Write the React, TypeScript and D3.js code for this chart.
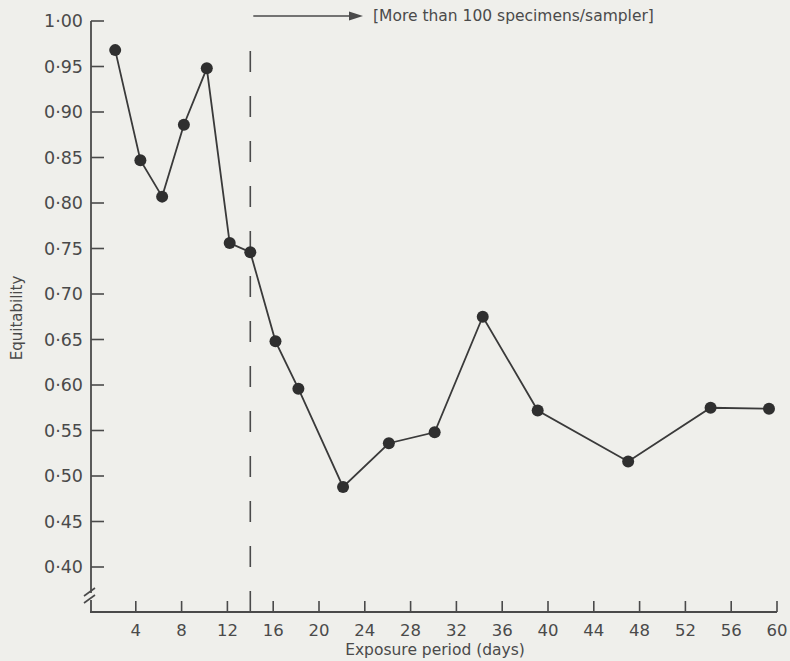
import React from "react";
import * as d3 from "d3";

const days = [2.2, 4.4, 6.3, 8.2, 10.2, 12.2, 14.0, 16.2, 18.2, 22.1, 26.1, 30.1, 34.3, 39.1, 47.0, 54.2, 59.3];
const equitability = [0.968, 0.847, 0.807, 0.886, 0.948, 0.756, 0.746, 0.648, 0.596, 0.488, 0.536, 0.548, 0.675, 0.572, 0.516, 0.575, 0.574];
const yTicks = [0.4, 0.45, 0.5, 0.55, 0.6, 0.65, 0.7, 0.75, 0.8, 0.85, 0.9, 0.95, 1.0];
const xTicks = [4, 8, 12, 16, 20, 24, 28, 32, 36, 40, 44, 48, 52, 56, 60];
const thresholdDay = 14.0;
const annotation = "[More than 100 specimens/sampler]";
const xTitle = "Exposure period (days)";
const yTitle = "Equitability";

const W = 790;
const H = 661;
const FONT = "DejaVu Sans, sans-serif";
const INK = "#4a4a4a";

export default function App() {
  const x = d3.scaleLinear().domain([0, 60]).range([90, 777]);
  const y = d3.scaleLinear().domain([0.4, 1.0]).range([567, 21]);
  const axisY = 612;
  const x0 = x(0) + 1;

  const pts = days.map((d, i) => ({ d, v: equitability[i] }));
  const line = d3
    .line<{ d: number; v: number }>()
    .x((p) => x(p.d))
    .y((p) => y(p.v));

  const fmt = (v: number) => v.toFixed(2).replace(".", "\u00B7");

  const arrowY = 16;
  const arrowX1 = x(thresholdDay) + 3;
  const arrowX2 = 363;

  return (
    <svg
      width={W}
      height={H}
      style={{ position: "absolute", left: 0, top: 0, background: "#efefeb" }}
      fontFamily={FONT}
    >
      <rect x={0} y={0} width={W} height={H} fill="#efefeb" />

      {/* y axis with break */}
      <line x1={x0} y1={y(1.0)} x2={x0} y2={593} stroke={INK} strokeWidth={1.8} />
      <line x1={x0 - 7} y1={596} x2={x0 + 4} y2={588} stroke={INK} strokeWidth={1.6} />
      <line x1={x0 - 7} y1={603} x2={x0 + 4} y2={595} stroke={INK} strokeWidth={1.6} />
      <line x1={x0} y1={600} x2={x0} y2={axisY} stroke={INK} strokeWidth={1.8} />

      {yTicks.map((t) => (
        <g key={t}>
          <line x1={x0} x2={x0 + 13} y1={y(t)} y2={y(t)} stroke={INK} strokeWidth={1.6} />
          <text
            x={83}
            y={y(t)}
            dy="0.36em"
            textAnchor="end"
            fontSize={17.5}
            fill={INK}
          >
            {fmt(t)}
          </text>
        </g>
      ))}

      {/* x axis */}
      <line x1={x0 - 1} y1={axisY} x2={x(60)} y2={axisY} stroke={INK} strokeWidth={1.8} />
      {xTicks.map((t) => (
        <g key={t}>
          <line x1={x(t)} x2={x(t)} y1={axisY} y2={axisY - 11} stroke={INK} strokeWidth={1.6} />
          <text x={x(t)} y={636} textAnchor="middle" fontSize={16.5} fill={INK}>
            {t}
          </text>
        </g>
      ))}

      <text x={435} y={655} textAnchor="middle" fontSize={15.5} fill={INK}>
        {xTitle}
      </text>
      <text
        transform={`translate(22,318) rotate(-90)`}
        textAnchor="middle"
        fontSize={15}
        fill={INK}
      >
        {yTitle}
      </text>

      {/* dashed threshold line */}
      <line
        x1={x(thresholdDay)}
        x2={x(thresholdDay)}
        y1={axisY}
        y2={30}
        stroke={INK}
        strokeWidth={1.6}
        strokeDasharray="21 24"
      />

      {/* arrow annotation */}
      <line x1={arrowX1} x2={arrowX2 - 12} y1={arrowY} y2={arrowY} stroke={INK} strokeWidth={1.6} />
      <path
        d={`M${arrowX2},${arrowY} L${arrowX2 - 14},${arrowY - 4.5} L${arrowX2 - 14},${arrowY + 4.5} Z`}
        fill={INK}
      />
      <text x={373} y={21} fontSize={15.5} fill={INK}>
        {annotation}
      </text>

      {/* series */}
      <path d={line(pts) || ""} fill="none" stroke="#3a3a3a" strokeWidth={1.8} />
      {pts.map((p, i) => (
        <circle key={i} cx={x(p.d)} cy={y(p.v)} r={6} fill="#2f2f2f" />
      ))}
    </svg>
  );
}
